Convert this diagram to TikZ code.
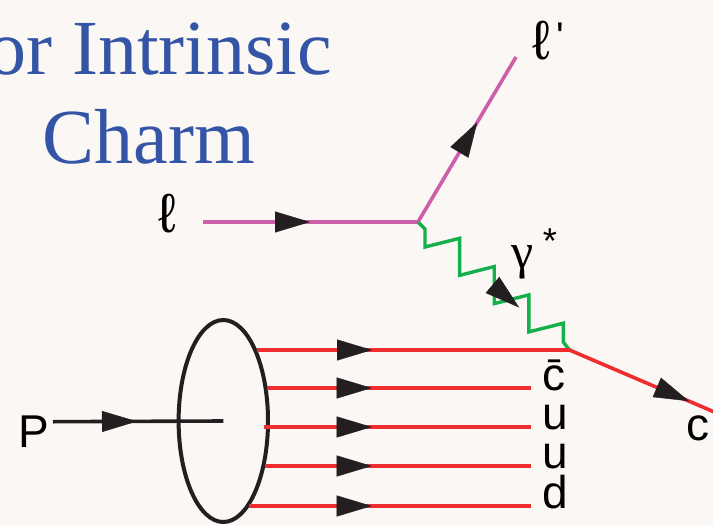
\documentclass[tikz,border=0pt]{standalone}
\usepackage{fontspec}
\usetikzlibrary{arrows.meta,decorations.markings,positioning}
\newfontfamily\labelsans{Liberation Sans}
\newfontfamily\serifface{Liberation Serif}

\tikzset{
  tri arrow/.style={postaction={decorate,decoration={markings,
      mark=at position #1 with {\arrow[ink,line width=0.4pt]{Triangle[length=35pt,width=21pt]}}}}},
  partlabel/.style={font=\labelsans\fontsize{46}{50}\selectfont,inner sep=0pt},
  ellabel/.style={font=\labelsans\fontsize{55}{58}\selectfont,inner sep=0pt},
  titletext/.style={titleblue,inner sep=0pt,anchor=base west,font=\serifface\fontsize{78}{84}\selectfont}
}

\begin{document}
\begin{tikzpicture}[x=1pt,y=-1pt,line width=3.6pt]
  \definecolor{paper}{HTML}{FAF7F4}
  \definecolor{titleblue}{HTML}{3455A6}
  \definecolor{lepton}{HTML}{CD5FA9}
  \definecolor{photon}{HTML}{13B04B}
  \definecolor{quark}{HTML}{EE2D2F}
  \definecolor{ink}{HTML}{231F20}
  \useasboundingbox (0,0) rectangle (713,525);
  \fill[paper] (0,0) rectangle (713,525);
  \clip (0,0) rectangle (713,525);

  \node[titletext] (title1) at (-14,74) {or Intrinsic};
  \node[titletext] (title2) at (41,163) {Charm};

  \coordinate (lin) at (203,222);
  \coordinate (lv) at (418,222);
  \coordinate (lout) at (516,57);
  \coordinate (qv) at (569.5,350);
  \coordinate (cout) at (740,423);
  \coordinate (pin) at (53,421.7);
  \coordinate (proton) at (223.3,421);

  \draw[lepton,tri arrow=107pt] (lin) -- (lv);
  \draw[lepton,tri arrow=116pt] (lv) -- (lout);
  \node[ellabel,anchor=base west] (ell) at (157,232) {ℓ};
  \node[ellabel,anchor=base west] (ellp) at (531,59)
    {ℓ\hspace{6pt}\raisebox{9pt}{\fontsize{40}{40}\selectfont\textquotesingle}};

  \draw[photon,line width=3.4pt] (lv) -- ++(7,7) -- ++(0,18)
    \foreach \k in {1,2,3} { -- ++(34.6,-8.7) -- ++(0,37) }
    -- ++(34.6,-8.7) -- ++(0,19) -- (qv);
  \path[tri arrow=0.668] (lv) -- (qv);
  \node[inner sep=0pt,anchor=base west,font=\serifface\fontsize{50}{54}\selectfont] (gam) at (510,268)
    {γ\hspace{9pt}\raisebox{15pt}{\labelsans\fontsize{36}{36}\selectfont *}};

  \draw[ink,line width=4pt] (proton) ellipse [x radius=44.7, y radius=101];
  \draw[ink,tri arrow=84pt] (pin) -- (proton);
  \node[partlabel,anchor=base west] (plab) at (17,447) {P};

  \draw[quark,tri arrow=115pt] (257,350) coordinate (qs1) -- (qv);
  \draw[quark,tri arrow=130pt] (qv) -- (cout);
  \node[partlabel,anchor=base west] (clab) at (684.5,440) {c};
  \foreach \i/\y/\xs/\lab in {2/388/267/\={c},3/427/264/u,4/466/265/u,5/506/249/d} {
    \coordinate (qs\i) at (\xs,\y);
    \coordinate (qe\i) at (531,\y);
    \pgfmathsetmacro{\tip}{371.7-\xs}
    \draw[quark,tri arrow=\tip pt] (qs\i) -- (qe\i);
    \node[partlabel,right=10pt of qe\i,anchor=mid west] (lab\i) {\lab};
  }
\end{tikzpicture}
\end{document}
